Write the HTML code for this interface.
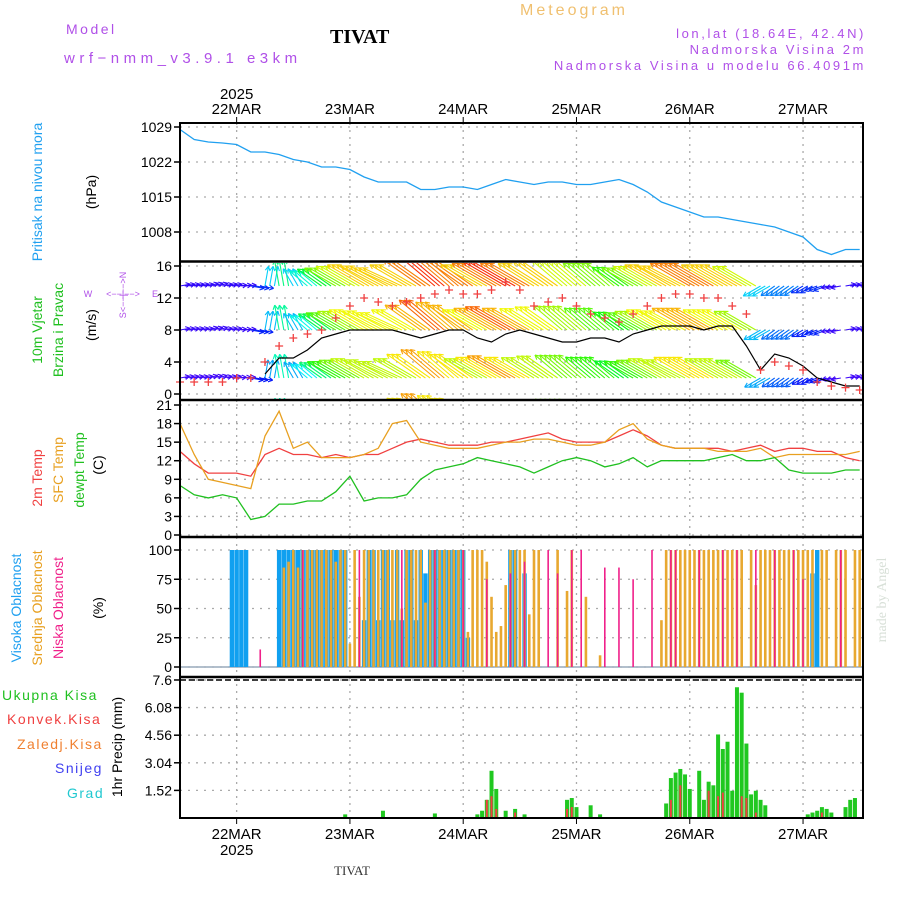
<!DOCTYPE html>
<html><head><meta charset="utf-8"><style>
body{margin:0;background:#fff;}
svg{display:block;font-family:"Liberation Sans",sans-serif;}
</style></head><body>
<svg id="chart" width="900" height="900" viewBox="0 0 900 900" xmlns="http://www.w3.org/2000/svg">
<rect width="900" height="900" fill="#fff"/>
<text x="66" y="34" font-size="14" fill="#b050e8" letter-spacing="2.5">Model</text>
<text x="64" y="63" font-size="15" fill="#b050e8" letter-spacing="4.5">wrf−nmm_v3.9.1 e3km</text>
<text x="330" y="43" font-size="20" font-weight="bold" font-family="Liberation Serif,serif" fill="#000">TIVAT</text>
<text x="520" y="15" font-size="16" fill="#f0c070" letter-spacing="3">Meteogram</text>
<text x="866" y="38" font-size="13" fill="#b050e8" text-anchor="end" letter-spacing="2.6">lon,lat (18.64E, 42.4N)</text>
<text x="866" y="54" font-size="13" fill="#b050e8" text-anchor="end" letter-spacing="2.6">Nadmorska Visina 2m</text>
<text x="866" y="70" font-size="13" fill="#b050e8" text-anchor="end" letter-spacing="2.6">Nadmorska Visina u modelu 66.4091m</text>
<g id="grid"></g>
<g id="marks"></g>
<g id="frame"></g>
<g font-size="14">
<text transform="translate(42,192) rotate(-90)" text-anchor="middle" fill="#20a0f0">Pritisak na nivou mora</text>
<text transform="translate(96,192) rotate(-90)" text-anchor="middle" fill="#000">(hPa)</text>
<text transform="translate(42,330) rotate(-90)" text-anchor="middle" fill="#20c020">10m Vjetar</text>
<text transform="translate(63,330) rotate(-90)" text-anchor="middle" fill="#20c020">Brzina i Pravac</text>
<text transform="translate(96,325) rotate(-90)" text-anchor="middle" fill="#000">(m/s)</text>
<g font-size="9" fill="#b050e8" text-anchor="middle">
<text x="88" y="297">W</text><text x="123" y="297">&lt;−−|−−&gt;</text><text x="155" y="297">E</text>
<text transform="translate(126,295) rotate(-90)">S&lt;−−|−−&gt;N</text>
</g>
<text transform="translate(42,478) rotate(-90)" text-anchor="middle" fill="#f04040">2m Temp</text>
<text transform="translate(63,470) rotate(-90)" text-anchor="middle" fill="#e8a020">SFC Temp</text>
<text transform="translate(84,470) rotate(-90)" text-anchor="middle" fill="#20c020">dewpt Temp</text>
<text transform="translate(103,465) rotate(-90)" text-anchor="middle" fill="#000">(C)</text>
<text transform="translate(21,608) rotate(-90)" text-anchor="middle" fill="#20a0f0">Visoka Oblacnost</text>
<text transform="translate(42,608) rotate(-90)" text-anchor="middle" fill="#e8a020">Srednja Oblacnost</text>
<text transform="translate(63,608) rotate(-90)" text-anchor="middle" fill="#f0208a">Niska Oblacnost</text>
<text transform="translate(103,608) rotate(-90)" text-anchor="middle" fill="#000">(%)</text>
<text transform="translate(122,747) rotate(-90)" text-anchor="middle" fill="#000">1hr Precip (mm)</text>
<text x="2" y="700" fill="#20c020" letter-spacing="1.5">Ukupna Kisa</text>
<text x="7" y="724" fill="#f04040" letter-spacing="1.5">Konvek.Kisa</text>
<text x="17" y="749" fill="#f08030" letter-spacing="1.5">Zaledj.Kisa</text>
<text x="55" y="773" fill="#4040f0" letter-spacing="1.5">Snijeg</text>
<text x="67" y="798" fill="#20c8d0" letter-spacing="1.5">Grad</text>
<text transform="translate(886,600) rotate(-90)" text-anchor="middle" fill="#d8e0d8" font-family="Liberation Serif,serif" font-size="14">made by Angel</text>
<text x="352" y="875" font-size="13" font-family="Liberation Serif,serif" text-anchor="middle" fill="#333">TIVAT</text>
</g>
</svg>
<script>
// ---- data (3-hourly from 21MAR 12UTC) ----
const dayLabels = ["22MAR","23MAR","24MAR","25MAR","26MAR","27MAR"];
const dayHours = [12,36,60,84,108,132];
const pressTicks = [1029,1022,1015,1008];
const windTicks = [0,4,8,12,16];
const tempTicks = [0,3,6,9,12,15,18,21];
const cloudTicks = [0,25,50,75,100];
const precipTicks = [1.52,3.04,4.56,6.08,7.6];
const pressure = [1028.5,1026.5,1026,1025.8,1025.5,1024,1024,1023.5,1022.5,1022,1021,1021,1020.5,1019,1018,1018,1018,1016.5,1016.5,1017,1017,1016.5,1017.5,1018.5,1018,1017.5,1018,1018,1017.5,1017.5,1018,1018.5,1017.5,1016,1014,1013,1012,1011,1011,1010.5,1010,1009.5,1009,1008,1007,1004.5,1003.5,1004.5,1004.5];
const temp2m = [13.5,11.5,10,10,10,9.5,13,14,13,13,12.5,13,12.5,13,13,14,15,15.5,15,14.5,14.5,14.5,15,15,15.5,16,16.5,15.5,15,15,15,16,17,16,14.5,14,14,14,14,13.5,14,14.5,13.5,14,14,13.5,13.5,12.5,12];
const tempSfc = [18,13,9,8.5,8,7.5,16,20,14,15,12.5,12.5,12.5,13,14,18,18.5,15,14.5,14,14,14,14.5,15,15,15.5,15.5,15,14.5,14.5,15,17,18,15.5,14.5,14,14,14,13.5,13.5,13.5,14,12.5,13,13,13,13,13,13.5];
const tempDew = [8,6.5,6,6.5,6,2.5,3,5,5,5.5,5.5,7,9.5,5.5,6,6,6.5,9,10.5,11,11.5,12.5,12,11.5,11,10,11,12,12.5,12,11,11.5,12.5,11,12,12,12,12,12.5,13,12,12,12.5,10.5,10,10,10,10.5,10.5];
const windSpeed = [null,null,null,null,null,null,2.5,4.5,4.5,5.5,7,7.5,8,8,8,8,7.5,7,7.5,8,8,7,6.5,7.5,8,7.5,7,6.5,6.5,7,7,6.5,7.5,8,8.5,8.5,8.5,8,8.5,8.5,6,3,5,4.5,3.5,2,1.5,1,1];
const windGust = [1.5,1.5,1.5,1.5,2,2,4,6,7,7.5,8,9.5,11,12,11.5,11,11.5,12,12.5,13,12.5,12.5,13,14,13,11,11.5,12,11,10,9.5,9,10,11,12,12.5,12.5,12,12,11,10,3,4,3.5,3,1.5,1,0.8,0.5];
const arrowSpeed = [2,2,2,2,2,3,5,7,5,6,8,10,11,12,12,12,12,13,14,13,13,12,13,14,13,12,12,11,11,10,10,9,10,11,12,12,13,13,12,12,11,5,4,4,3,3,2,2,2];
const arrowDir = [10,10,15,10,5,-10,80,100,120,140,145,150,150,150,152,155,150,145,140,140,145,150,150,150,150,148,145,140,140,140,140,145,150,150,150,152,150,150,150,150,150,210,215,215,210,200,190,10,10];
// hourly cloud cover (%)
const cloudHigh = [0,0,0,0,0,0,0,0,0,0,0,100,100,100,100,0,0,0,0,0,0,100,100,100,100,100,100,100,100,100,100,100,100,100,100,100,0,0,0,40,100,100,40,100,100,40,100,40,100,100,40,100,80,100,100,100,100,100,100,100,100,25,0,0,0,0,0,0,0,0,100,100,0,80,0,0,0,0,0,0,0,0,0,0,0,0,0,0,0,0,0,0,0,0,0,0,0,0,0,0,0,0,0,0,0,0,0,0,0,0,0,0,0,0,0,0,0,0,0,0,0,0,0,0,0,0,0,0,0,0,0,0,0,0,80,100,0,0,0,0,0,0,0,0,0,0];
const cloudMid = [0,0,0,0,0,0,0,0,0,0,0,0,0,0,0,0,0,0,0,0,0,0,85,90,100,85,100,100,100,100,100,100,100,90,100,100,20,100,60,100,100,100,100,100,100,100,100,50,100,100,100,100,55,100,100,100,100,100,100,100,100,30,100,100,100,90,60,30,35,70,100,100,100,100,45,100,100,0,0,0,100,0,65,100,0,0,60,0,0,10,0,0,0,0,0,0,0,0,0,0,0,0,40,100,100,100,100,100,100,100,100,100,100,100,100,100,100,100,100,100,0,100,70,100,100,100,100,100,100,100,100,100,100,100,100,0,100,100,0,100,100,100,0,100,100];
const lowHours = [17,26,38,47,54,60,65,70,73,78,80,83,85,90,93,96,100,104,105,110,115,118,122,126,130,132,140];
const lowVals = [15,100,100,100,100,100,75,80,90,100,80,100,100,85,85,75,100,100,100,100,100,100,100,100,100,75,100];
// precipitation (mm/hr)
const rainHours = [35,43,54,63,64,65,66,67,69,71,73,82,83,84,87,89,103,104,105,106,107,108,110,111,112,113,114,115,116,117,118,119,120,121,122,123,124,133,134,135,136,137,138,141,142,143];
const rainTotal = [0.2,0.4,0.25,0.2,0.4,1.0,2.6,1.6,0.4,0.5,0.2,1.0,1.1,0.6,0.7,0.2,0.8,2.2,2.5,2.7,2.4,1.6,2.6,1.0,2.0,1.8,4.6,3.8,4.2,1.5,7.2,6.9,4.1,1.3,1.5,1.0,0.7,0.2,0.3,0.4,0.6,0.5,0.3,0.6,1.0,1.1];
const convHours = [65,66,67,71,82,83,104,106,112,114,115,119,120,122,136];
const convVals = [1.0,1.2,0.5,0.3,0.5,0.6,1.0,1.8,1.5,1.2,1.4,1.2,1.1,0.3,0.3];

// ---- scales ----
const X0=180, X1=863, PXH=4.72;
const xh = h => X0 + h*PXH;
const yP = v => 127 + (1029-v)*5;
const yW = v => 394 - v*8;
const yT = v => 535 - v*6.19;
const yC = v => 667 - v*1.17;
const yR = v => 818 - v*18.16;
const panels = [[123,261],[262,400],[400,537],[537,676],[677,818]];

const NS="http://www.w3.org/2000/svg";
function mk(tag, attrs, parent){const e=document.createElementNS(NS,tag);for(const k in attrs)e.setAttribute(k,attrs[k]);parent.appendChild(e);return e;}
const grid=document.getElementById('grid'), marks=document.getElementById('marks'), frame=document.getElementById('frame');

function hgrid(ticks, yf, fmt){
  ticks.forEach(t=>{
    const y=yf(t);
    const g=mk('line',{x1:X0,x2:X1,y1:y,y2:y,stroke:'#aaa','stroke-dasharray':'2,6','stroke-width':1.3},grid);
    
    
    mk('line',{x1:X0-6,x2:X0,y1:y,y2:y,stroke:'#000','stroke-width':1.5},frame);
    const tx=mk('text',{x:X0-8,y:y+5,'text-anchor':'end','font-size':14,fill:'#000'},frame);
    tx.textContent=fmt(t);
    
    
  });
}
hgrid(pressTicks,yP,t=>t);
hgrid(windTicks,yW,t=>t);
hgrid(tempTicks,yT,t=>t);
hgrid(cloudTicks,yC,t=>t);
hgrid(precipTicks,yR,t=>t);
dayHours.forEach((h,i)=>{
  const x=xh(h);
  panels.forEach(p=>{
    const v=mk('line',{x1:x,x2:x,y1:p[0],y2:p[1],stroke:'#aaa','stroke-dasharray':'2,5','stroke-width':1.3},grid);
    
    
  });
  mk('line',{x1:x,x2:x,y1:117,y2:123,stroke:'#000'},frame);
  mk('line',{x1:x,x2:x,y1:818,y2:824,stroke:'#000'},frame);
  const t1=mk('text',{x:x,y:114,'text-anchor':'middle','font-size':15,fill:'#000'},frame);
  t1.textContent=dayLabels[i];
  
  
  const t2=mk('text',{x:x,y:839,'text-anchor':'middle','font-size':15,fill:'#000'},frame);
  t2.textContent=dayLabels[i];
  
  
});
[[xh(12),99],[xh(12),855]].forEach(p=>{
  const t=mk('text',{x:p[0],y:p[1],'text-anchor':'middle','font-size':15,fill:'#000'},frame);
  t.textContent='2025';
  
  
});

function line(arr, yf, color, name, w){
  let d='';
  arr.forEach((v,i)=>{ if(v===null) return; d+=(d?'L':'M')+xh(i*3).toFixed(1)+','+yf(v).toFixed(1); });
  const p=mk('path',{d:d,fill:'none',stroke:color,'stroke-width':w||1.3},marks);
  
  
}
line(pressure,yP,'#20a0f0','pressure-line');

// wind arrows
const clip=mk('clipPath',{id:'windclip'},marks);
mk('rect',{x:X0,y:263,width:X1-X0,height:136},clip);
const windG=mk('g',{'clip-path':'url(#windclip)'},marks);


function hueFor(s){ return ((290 - s*20)%360+360)%360; }
const rows=[[286,1],[330,0.95],[378,0.9],[422,0.9]];
rows.forEach((r,ri)=>{
  for(let h=0;h<=144;h++){
    const i=Math.floor(h/3);
    const s=arrowSpeed[i]*r[1], a=arrowDir[i]*Math.PI/180;
    const L=4+s*3.2;
    const x=xh(h), y=r[0];
    const x2=x+L*Math.cos(a), y2=y-L*Math.sin(a);
    const col='hsl('+hueFor(s)+',95%,50%)';
    const ar=mk('line',{x1:x,y1:y,x2:x2,y2:y2,stroke:col,'stroke-width':1.1},windG);
    
    
    const ang=Math.atan2(y2-y,x2-x);
    const hd=mk('path',{d:'M'+x2+','+y2+'l'+(-5*Math.cos(ang-0.5))+','+(-5*Math.sin(ang-0.5))+'M'+x2+','+y2+'l'+(-5*Math.cos(ang+0.5))+','+(-5*Math.sin(ang+0.5)),stroke:col,'stroke-width':1.1,fill:'none'},windG);
    
    
  }
});
line(windSpeed,yW,'#000','wind-speed-line',1.2);
windGust.forEach((v,i)=>{
  const x=xh(i*3), y=yW(v);
  const c=mk('path',{d:'M'+(x-4)+','+y+'h8M'+x+','+(y-4)+'v8',stroke:'#f04040','stroke-width':1.3},marks);
  
  
});
line(temp2m,yT,'#f04040','temp-2m-line');
line(tempSfc,yT,'#e8a020','temp-sfc-line');
line(tempDew,yT,'#20c020','dewpoint-line');

// clouds
mk('line',{x1:X0,x2:X1,y1:yC(0),y2:yC(0),stroke:'#9ab','stroke-width':1.5},marks);
cloudHigh.forEach((v,h)=>{ if(!v) return;
  const r=mk('rect',{x:xh(h)-2.2,y:yC(v),width:4.4,height:yC(0)-yC(v),fill:'#10a0f0'},marks);
  
  
});
cloudMid.forEach((v,h)=>{ if(!v) return;
  const r=mk('rect',{x:xh(h)-1.3,y:yC(v),width:2.6,height:yC(0)-yC(v),fill:'#e8a830'},marks);
  
  
});
lowHours.forEach((h,k)=>{
  const v=lowVals[k];
  const r=mk('rect',{x:xh(h)-0.8,y:yC(v),width:1.6,height:yC(0)-yC(v),fill:'#f0208a'},marks);
  
  
});

// precip
rainHours.forEach((h,k)=>{
  const v=rainTotal[k];
  const r=mk('rect',{x:xh(h)-2,y:yR(v),width:4,height:yR(0)-yR(v),fill:'#20c820'},marks);
  
  
});
convHours.forEach((h,k)=>{
  const v=convVals[k];
  const r=mk('rect',{x:xh(h)-1,y:yR(v),width:2,height:yR(0)-yR(v),fill:'#f04040'},marks);
  
  
});
mk('line',{x1:X0,x2:X1,y1:680,y2:680,stroke:'#000','stroke-width':1.5,'stroke-dasharray':'6,3'},marks);

// frame
mk('rect',{x:X0,y:123,width:X1-X0,height:818-123,fill:'none',stroke:'#000','stroke-width':2},frame);
[261.5,400,537,677].forEach(y=>{
  const l=mk('line',{x1:X0,x2:X1,y1:y,y2:y,stroke:'#000','stroke-width':2.5},frame);
  
  
});
</script>
</body></html>
